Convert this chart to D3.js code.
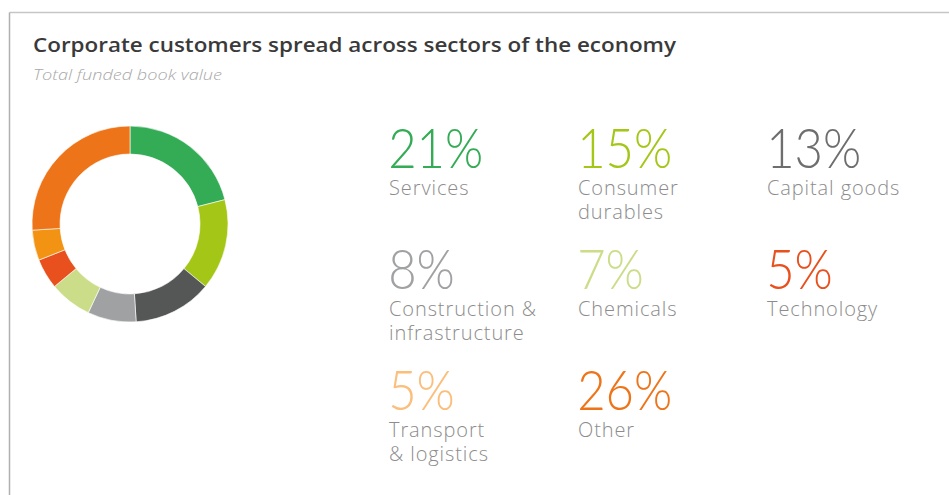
<!DOCTYPE html>
<html>
<head>
<meta charset="utf-8">
<script src="https://cdn.jsdelivr.net/npm/d3@7/dist/d3.min.js"></script>
<style>
  html, body { margin: 0; padding: 0; background: #fff; }
  svg { display: block; }
</style>
</head>
<body>
<svg id="chart" width="949" height="495"></svg>
<script>
// ---- data ----
const categories = ["Services", "Consumer durables", "Capital goods", "Construction & infrastructure",
                    "Chemicals", "Technology", "Transport & logistics", "Other"];
const values = [21, 15, 13, 8, 7, 5, 5, 26];
const labelLines = [["Services"], ["Consumer", "durables"], ["Capital goods"],
                    ["Construction &", "infrastructure"], ["Chemicals"], ["Technology"],
                    ["Transport", "& logistics"], ["Other"]];
const sliceColors = ["#34ab55", "#a3c617", "#555756", "#a0a1a3", "#ccdd8a", "#e8501d", "#f39314", "#ee7419"];
const numberColors = ["#34ab55", "#a3c617", "#6e6e6e", "#a0a1a3", "#ccdd8a", "#e8501d", "#fbbe7b", "#ee7419"];
// legend order (row-major, 3 columns)
const legendOrder = [0, 1, 2, 3, 4, 5, 6, 7];

const svg = d3.select("#chart");

// card border (top + left)
svg.append("line").attr("x1", 9.5).attr("x2", 949).attr("y1", 12.5).attr("y2", 12.5)
  .attr("stroke", "#c6c6c6").attr("stroke-width", 1.5);
svg.append("line").attr("x1", 9.5).attr("x2", 9.5).attr("y1", 12.5).attr("y2", 495)
  .attr("stroke", "#b0b0b0").attr("stroke-width", 1.5);

// title
svg.append("text").attr("x", 33).attr("y", 52)
  .attr("font-family", "'Open Sans', Lato, sans-serif").attr("font-weight", 600)
  .attr("font-size", 20).attr("fill", "#3a3a3a")
  .attr("textLength", 643).attr("lengthAdjust", "spacingAndGlyphs")
  .text("Corporate customers spread across sectors of the economy");

svg.append("text").attr("x", 33).attr("y", 80)
  .attr("font-family", "'Open Sans', Lato, sans-serif").attr("font-style", "italic")
  .attr("font-weight", 300)
  .attr("font-size", 15).attr("fill", "#a8a8a8")
  .attr("textLength", 189).attr("lengthAdjust", "spacingAndGlyphs")
  .text("Total funded book value");

// donut
const cx = 130, cy = 224, rOuter = 98, rInner = 70;
const pie = d3.pie().sort(null).value(d => d);
const arc = d3.arc().innerRadius(rInner).outerRadius(rOuter);
const g = svg.append("g").attr("transform", `translate(${cx},${cy})`);
g.selectAll("path").data(pie(values)).join("path")
  .attr("d", arc)
  .attr("fill", (d, i) => sliceColors[i])
  .attr("stroke", "#ffffff").attr("stroke-width", 0.6);

// legend grid
const colX = d3.scaleOrdinal().domain([0, 1, 2]).range([389, 578, 767]);
const rowY = d3.scaleOrdinal().domain([0, 1, 2]).range([168, 289, 410]);

const items = svg.append("g").selectAll("g").data(legendOrder).join("g")
  .attr("transform", (d, k) => `translate(${colX(k % 3)},${rowY(Math.floor(k / 3))})`);

items.append("text")
  .attr("transform", "scale(0.875,1)")
  .attr("x", -1).attr("y", 0)
  .attr("font-family", "Lato, 'Open Sans', sans-serif").attr("font-weight", 300)
  .attr("font-size", 56).attr("fill", i => numberColors[i])
  .text(i => values[i] + "%");

items.each(function(i) {
  const t = d3.select(this).append("text")
    .attr("font-family", "'Open Sans', Lato, sans-serif").attr("font-weight", 300)
    .attr("font-size", 20).attr("letter-spacing", 0.9).attr("fill", "#8c8c8c");
  labelLines[i].forEach((line, j) => {
    t.append("tspan").attr("x", 0).attr("y", 27 + j * 24).text(line);
  });
});
</script>
</body>
</html>
